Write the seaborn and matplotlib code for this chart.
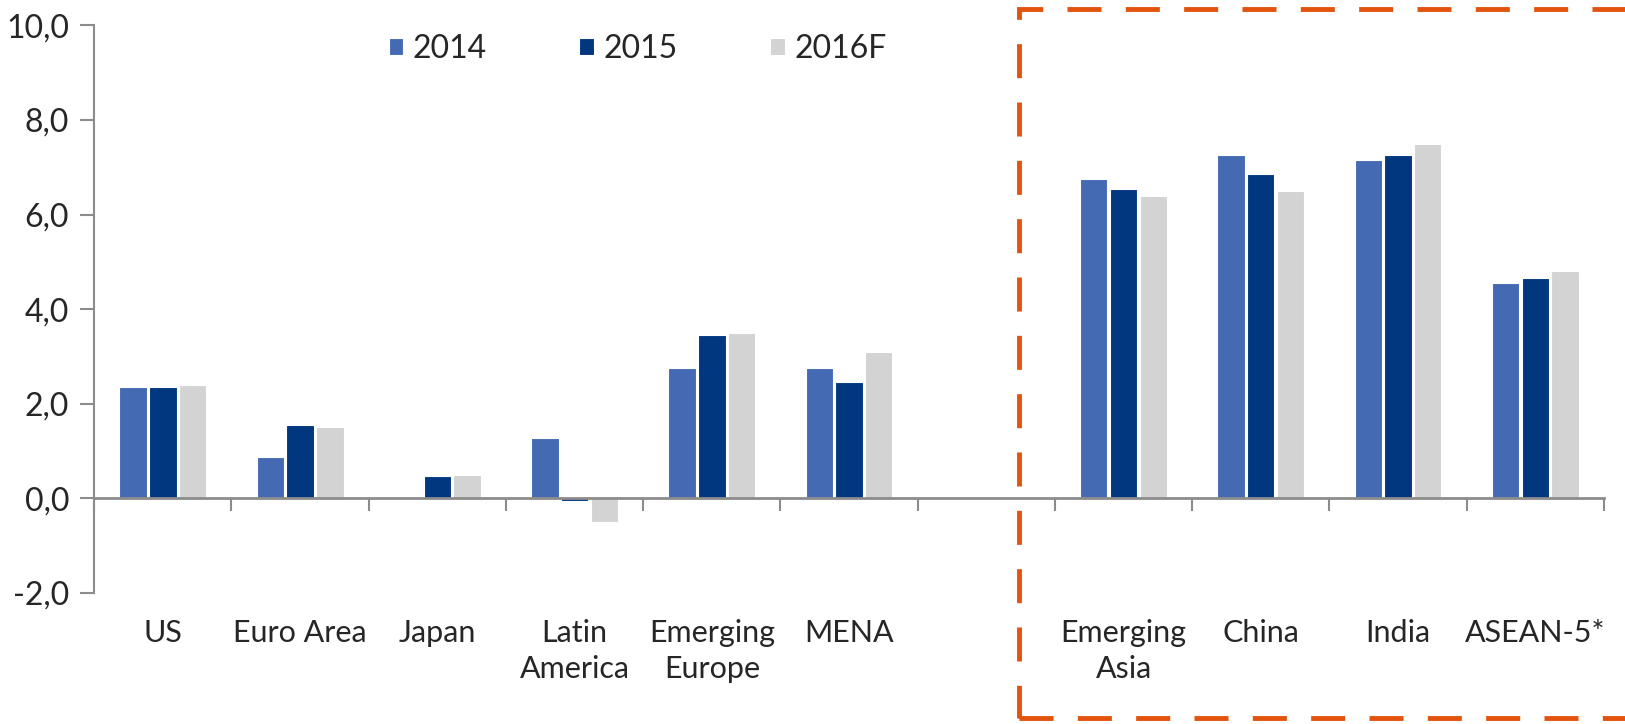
import numpy as np
import pandas as pd
import seaborn as sns
import matplotlib.pyplot as plt
from matplotlib.patches import Rectangle
from matplotlib.ticker import FuncFormatter, FixedLocator
import matplotlib.transforms as mtransforms

# regions (blank slot separates advanced/other EMs from Asia)
regions = ["US", "Euro Area", "Japan", "Latin\nAmerica", "Emerging\nEurope", "MENA", "",
           "Emerging\nAsia", "China", "India", "ASEAN-5*"]
years = ["2014", "2015", "2016F"]
g2014 = [2.35, 0.87, 0.0, 1.27, 2.75, 2.75, np.nan, 6.75, 7.25, 7.15, 4.55]
g2015 = [2.35, 1.55, 0.47, -0.05, 3.45, 2.45, np.nan, 6.55, 6.85, 7.25, 4.65]
g2016 = [2.4, 1.5, 0.5, -0.5, 3.5, 3.1, np.nan, 6.4, 6.5, 7.5, 4.8]
colors = ["#446AB3", "#00377E", "#D3D3D3"]

df = pd.DataFrame({"region": regions * 3,
                   "year": np.repeat(years, len(regions)),
                   "growth": g2014 + g2015 + g2016})

sns.set_style("white")
plt.rcParams["font.family"] = ["Lato", "DejaVu Sans"]

fig = plt.figure(figsize=(16.25, 7.24), dpi=100)
ax = fig.add_axes([0.058, 0.181, 0.929, 0.784])

sns.barplot(data=df, x="region", y="growth", hue="year", order=regions,
            hue_order=years, palette=colors, saturation=1, width=0.65, gap=0.08,
            edgecolor="white", linewidth=0.8, errorbar=None, ax=ax)

ax.set_ylim(-2, 10)
ax.set_xlim(-0.5, len(regions) - 0.5)
ax.set_yticks(np.arange(-2, 10.1, 2))
ax.yaxis.set_major_formatter(FuncFormatter(lambda v, p: f"{v:.1f}".replace(".", ",")))
ax.set_xlabel("")
ax.set_ylabel("")

# axis styling
for s in ["top", "right"]:
    ax.spines[s].set_visible(False)
ax.spines["bottom"].set_position(("data", 0))
ax.spines["bottom"].set_color("#8C8C8C")
ax.spines["bottom"].set_linewidth(2)
ax.spines["left"].set_color("#8C8C8C")
ax.spines["left"].set_linewidth(1.5)

ax.tick_params(axis="y", which="major", direction="out", length=10, width=1.5,
               color="#8C8C8C", labelsize=23, pad=8, left=True)
ax.tick_params(axis="x", which="major", length=0, labelsize=22, pad=87)
ax.xaxis.set_minor_locator(FixedLocator(np.arange(-0.5, len(regions), 1.0)))
ax.tick_params(axis="x", which="minor", direction="out", length=9, width=1.5,
               color="#8C8C8C", bottom=True)
for lbl in ax.get_xticklabels():
    lbl.set_linespacing(1.32)

# legend
handles, labels = ax.get_legend_handles_labels()
ax.legend(handles, labels, loc="center left", bbox_to_anchor=(0.176, 0.958), ncol=3,
          frameon=False, fontsize=23, handlelength=0.45, handleheight=0.45,
          handletextpad=0.3, columnspacing=2.9)

# orange dashed box round the Asian group
trans = mtransforms.blended_transform_factory(ax.transData, fig.transFigure)
box = Rectangle((6.24, 0.008), 10, 0.979, transform=trans, fill=False,
                edgecolor="#E3530D", linewidth=3.5, linestyle=(0, (7, 5)),
                clip_on=False)
fig.add_artist(box)

fig.savefig("out.png", dpi=100)
